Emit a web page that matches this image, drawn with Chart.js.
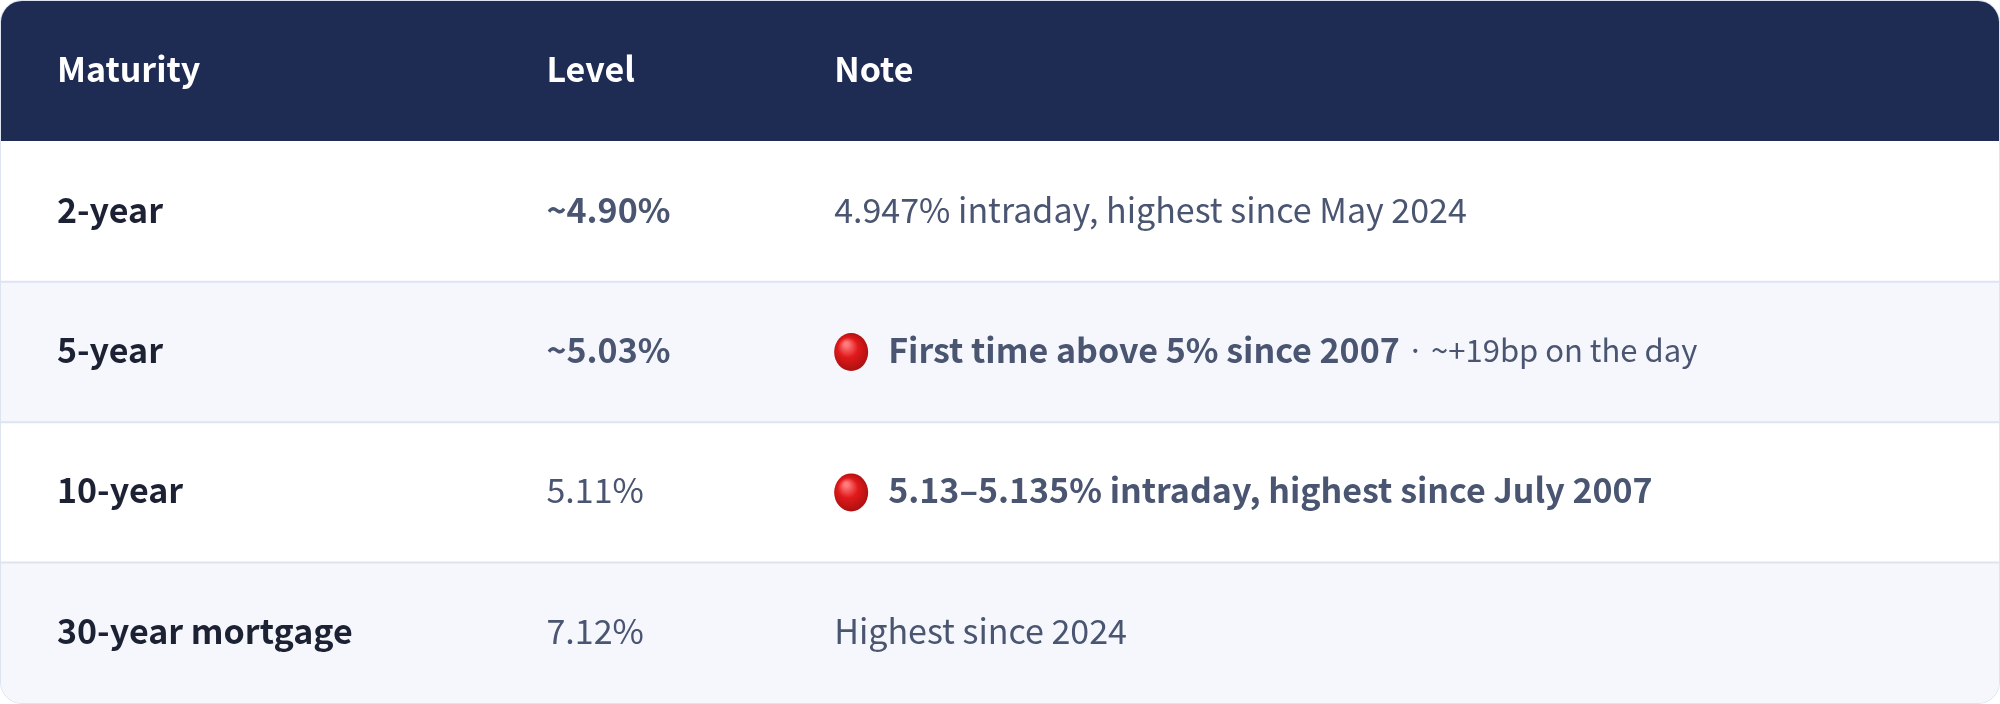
<!DOCTYPE html>
<html>
<head>
<meta charset="utf-8">
<script src="https://cdn.jsdelivr.net/npm/chart.js@4"></script>
<style>
  html, body { margin: 0; padding: 0; background: #fff; }
  #wrap { width: 1998px; height: 702px; border: 1px solid #dde3ef; border-radius: 22px; overflow: hidden; }
  canvas { display: block; }
</style>
</head>
<body>
<div id="wrap"><canvas id="tbl" width="1998" height="702"></canvas></div>
<script>
"use strict";

// table content
const headers = ['Maturity', 'Level', 'Note'];
const maturities = ['2-year', '5-year', '10-year', '30-year mortgage'];
const levels = ['~4.90%', '~5.03%', '5.11%', '7.12%'];
const levelBold = [true, true, false, false];
const notesMain = ['4.947% intraday, highest since May 2024', 'First time above 5% since 2007', '5.13–5.135% intraday, highest since July 2007', 'Highest since 2024'];
const notesTail = ['', ' · ~+19bp on the day', '', ''];
const notesFlag = [false, true, true, false];
const notesBold = [false, true, true, false];

const rowLabels = ['header'].concat(maturities);
const colStart = [0.028, 0.273, 0.417]; // column left edges as x-scale fractions

const FONT = '"Noto Sans CJK KR", "Noto Sans", sans-serif';

const tablePlugin = {
  id: 'tableText',
  afterDatasetsDraw(chart) {
    const ctx = chart.ctx, xs = chart.scales.x, ys = chart.scales.y;
    const cx = colStart.map(f => xs.getPixelForValue(f));
    ctx.save();
    ctx.textBaseline = 'middle';
    // row borders
    ctx.strokeStyle = '#dde3ef'; ctx.lineWidth = 2;
    for (let i = 1; i < rowLabels.length - 1; i++) {
      const yb = (ys.getPixelForValue(i) + ys.getPixelForValue(i + 1)) / 2;
      ctx.beginPath(); ctx.moveTo(0, yb); ctx.lineTo(chart.width, yb); ctx.stroke();
    }
    // header
    const yh = ys.getPixelForValue(0) - 2;
    ctx.fillStyle = '#ffffff'; ctx.font = '700 34px ' + FONT;
    headers.forEach((h, i) => ctx.fillText(h, cx[i], yh));
    // body
    maturities.forEach((m, r) => {
      const y = ys.getPixelForValue(r + 1) - 2;
      ctx.fillStyle = '#1c2233'; ctx.font = '700 34px ' + FONT;
      ctx.fillText(m, cx[0], y);
      ctx.fillStyle = '#4a5571'; ctx.font = (levelBold[r] ? '700' : '400') + ' 34px ' + FONT;
      ctx.fillText(levels[r], cx[1], y);
      let x = cx[2];
      if (notesFlag[r]) {
        const g = ctx.createRadialGradient(x + 12, y - 6, 2, x + 16, y + 2, 20);
        g.addColorStop(0, '#ff7b7b'); g.addColorStop(0.45, '#e0191b'); g.addColorStop(1, '#a8100f');
        ctx.fillStyle = g;
        ctx.beginPath(); ctx.ellipse(x + 17, y + 2, 17, 19, 0, 0, Math.PI * 2); ctx.fill();
        x += 54;
      }
      ctx.fillStyle = '#4a5571'; ctx.font = (notesBold[r] ? '700' : '400') + ' 34px ' + FONT;
      ctx.fillText(notesMain[r], x, y);
      if (notesTail[r]) {
        const w = ctx.measureText(notesMain[r]).width;
        ctx.font = '400 31px ' + FONT;
        ctx.fillText(notesTail[r], x + w, y);
      }
    });
    ctx.restore();
  }
};

new Chart(document.getElementById('tbl'), {
  type: 'bar',
  data: {
    labels: rowLabels,
    datasets: [{
      data: rowLabels.map(() => 1),
      backgroundColor: rowLabels.map((_, i) => i === 0 ? '#1e2b53' : (i % 2 ? '#ffffff' : '#f5f7fc')),
      borderWidth: 0,
      barPercentage: 1,
      categoryPercentage: 1
    }]
  },
  options: {
    indexAxis: 'y',
    responsive: false,
    animation: false,
    devicePixelRatio: 1,
    layout: { padding: 0 },
    events: [],
    plugins: { legend: { display: false }, tooltip: { enabled: false } },
    scales: {
      x: { display: false, min: 0, max: 1 },
      y: { display: false }
    }
  },
  plugins: [tablePlugin]
});
</script>
</body>
</html>
